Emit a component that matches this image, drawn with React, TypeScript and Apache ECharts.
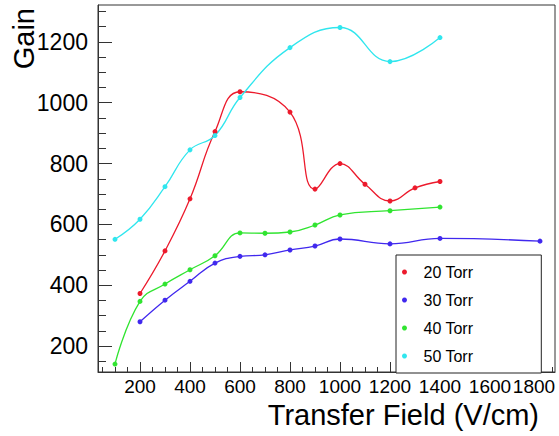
import React, { useEffect, useRef } from "react";
import * as echarts from "echarts";

const seriesNames = ["20 Torr", "30 Torr", "40 Torr", "50 Torr"];
const colors = ["#ec1a2c", "#4028ee", "#30e430", "#30e6ee"];

const x20 = [200, 300, 400, 500, 600, 800, 900, 1000, 1100, 1200, 1300, 1400];
const y20 = [373, 513, 684, 905, 1036, 969, 716, 800, 732, 677, 720, 741];

const x30 = [200, 300, 400, 500, 600, 700, 800, 900, 1000, 1200, 1400, 1800];
const y30 = [280, 351, 413, 473, 495, 500, 516, 529, 552, 536, 554, 545];

const x40 = [100, 200, 300, 400, 500, 600, 700, 800, 900, 1000, 1200, 1400];
const y40 = [141, 347, 404, 451, 497, 572, 571, 575, 598, 631, 645, 657];

const x50 = [100, 200, 300, 400, 500, 600, 800, 1000, 1200, 1400];
const y50 = [551, 617, 724, 845, 892, 1017, 1181, 1247, 1135, 1214];

const xMajor = [200, 400, 600, 800, 1000, 1200, 1400, 1600, 1800];
const xMinor = [50, 100, 150, 250, 300, 350, 450, 500, 550, 650, 700, 750, 850, 900, 950, 1050, 1100, 1150, 1250, 1300, 1350, 1450, 1500, 1550, 1650, 1700, 1750, 1850];
const yMajor = [200, 400, 600, 800, 1000, 1200];
const yMinor = [150, 250, 300, 350, 450, 500, 550, 650, 700, 750, 850, 900, 950, 1050, 1100, 1150, 1250, 1300];

const X_MIN = 32;
const X_MAX = 1860;
const Y_MIN = 115;
const Y_MAX = 1321;

const xs = [x20, x30, x40, x50];
const ys = [y20, y30, y40, y50];

export default function App() {
  const ref = useRef<HTMLDivElement>(null);
  useEffect(() => {
    if (!ref.current) return;
    const chart = echarts.init(ref.current, null, { renderer: "svg" });
    const font = "'Liberation Sans', Arial, Helvetica, sans-serif";
    const axisColor = "#333";
    const fmtY = (v: number) => String(v);
    const fmtX = (v: number) => (v === xMajor[xMajor.length - 1] ? "{last|" + v + "}" : String(v));
    const baseX = {
      type: "value",
      min: X_MIN,
      max: X_MAX,
      position: "bottom",
      splitLine: { show: false },
    };
    const baseY = {
      type: "value",
      min: Y_MIN,
      max: Y_MAX,
      position: "left",
      splitLine: { show: false },
    };
    chart.setOption({
      animation: false,
      backgroundColor: "#fff",
      grid: {
        left: 98,
        top: 5,
        right: 4,
        bottom: 64,
        containLabel: false,
        outerBoundsMode: "none",
        show: true,
        borderColor: axisColor,
        borderWidth: 1,
        backgroundColor: "transparent",
      },
      xAxis: [
        {
          ...baseX,
          axisLine: { show: true, onZero: false, lineStyle: { color: axisColor, width: 1 } },
          axisTick: {
            show: true,
            inside: true,
            length: 10,
            customValues: xMajor,
            lineStyle: { color: axisColor },
          },
          axisLabel: {
            show: true,
            customValues: xMajor,
            formatter: fmtX,
            hideOverlap: false,
            showMinLabel: true,
            showMaxLabel: true,
            color: "#000",
            fontSize: 19,
            fontFamily: font,
            margin: 5,
            rich: {
              last: {
                fontSize: 19,
                fontFamily: font,
                color: "#000",
                padding: [0, 12, 0, 0],
              },
            },
          },
        },
        {
          ...baseX,
          axisLine: { show: false, onZero: false },
          axisTick: {
            show: true,
            inside: true,
            length: 5,
            customValues: xMinor,
            lineStyle: { color: axisColor },
          },
          axisLabel: { show: false },
        },
      ],
      yAxis: [
        {
          ...baseY,
          axisLine: { show: true, onZero: false, lineStyle: { color: axisColor, width: 1 } },
          axisTick: {
            show: true,
            inside: true,
            length: 14,
            customValues: yMajor,
            lineStyle: { color: axisColor },
          },
          axisLabel: {
            show: true,
            customValues: yMajor,
            formatter: fmtY,
            color: "#000",
            fontSize: 23,
            fontFamily: font,
            margin: 10,
          },
        },
        {
          ...baseY,
          axisLine: { show: false, onZero: false },
          axisTick: {
            show: true,
            inside: true,
            length: 8,
            customValues: yMinor,
            lineStyle: { color: axisColor },
          },
          axisLabel: { show: false },
        },
      ],
      legend: {
        show: true,
        orient: "vertical",
        left: 396,
        top: 255,
        data: seriesNames,
        icon: "circle",
        itemWidth: 28,
        itemHeight: 5,
        itemGap: 12,
        padding: [9, 68, 9, 6],
        backgroundColor: "#fff",
        borderColor: "#222",
        borderWidth: 1,
        borderRadius: 0,
        textStyle: { fontSize: 16, fontFamily: font, color: "#000", lineHeight: 16 },
      },
      graphic: [
        {
          type: "text",
          left: 9,
          top: 8,
          rotation: Math.PI / 2,
          style: {
            text: "Gain",
            fontSize: 29,
            fontFamily: font,
            fill: "#000",
          },
        },
        {
          type: "text",
          right: 20,
          top: 400,
          style: {
            text: "Transfer Field (V/cm)",
            fontSize: 29,
            fontFamily: font,
            fill: "#000",
          },
        },
      ],
      series: seriesNames.map((name, i) => ({
        name,
        type: "line",
        xAxisIndex: 0,
        yAxisIndex: 0,
        data: xs[i].map((x, j) => [x, ys[i][j]]),
        smooth: 0.45,
        symbol: "circle",
        symbolSize: 5,
        showSymbol: true,
        itemStyle: { color: colors[i] },
        lineStyle: { color: colors[i], width: 1.3 },
        clip: true,
      })),
    });
    return () => chart.dispose();
  }, []);
  return (
    <div
      ref={ref}
      style={{ position: "fixed", left: 0, top: 0, width: 559, height: 436 }}
    />
  );
}
